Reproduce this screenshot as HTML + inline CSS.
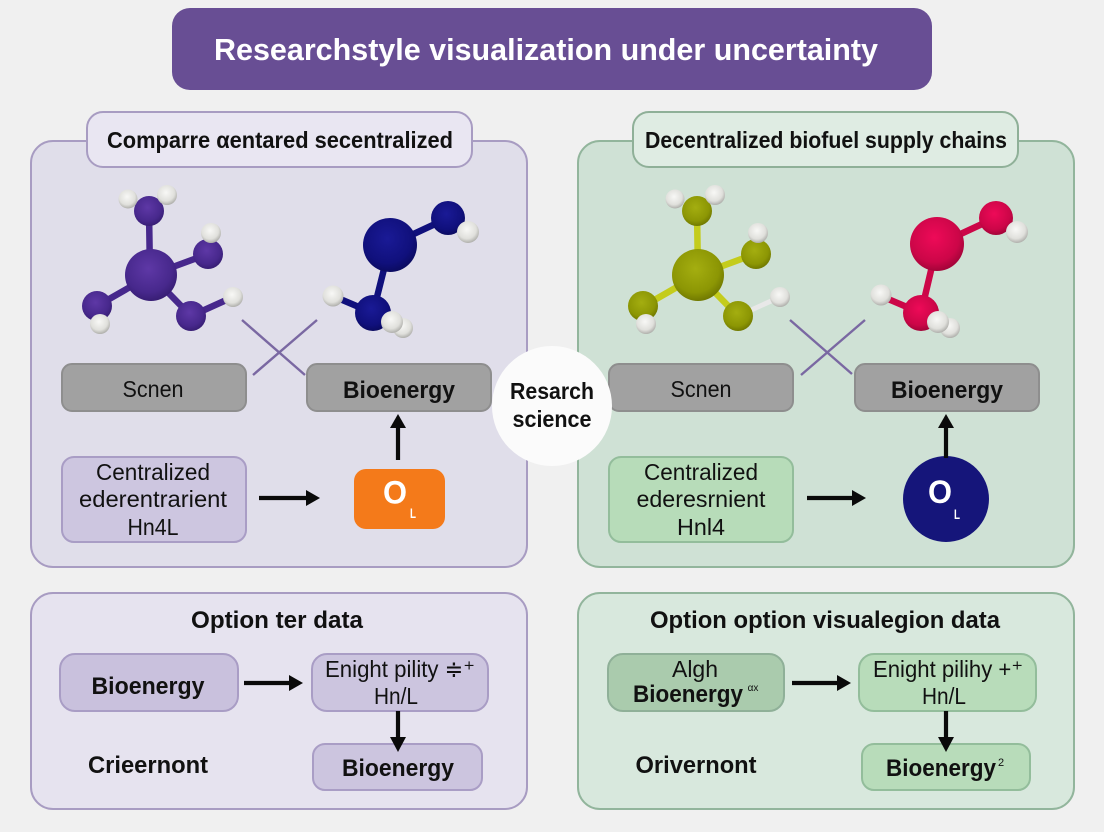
<!DOCTYPE html>
<html><head><meta charset="utf-8"><style>
html,body{margin:0;padding:0;background:#f0f0f0}
svg{display:block}
text{font-family:"Liberation Sans",sans-serif;fill:#111;text-anchor:middle}
.b{font-weight:700}
</style></head><body>
<svg width="1104" height="832" viewBox="0 0 1104 832" xmlns="http://www.w3.org/2000/svg">
<defs>
<radialGradient id="pur" cx="45%" cy="38%" r="65%"><stop offset="0" stop-color="#5e38a6"/><stop offset="0.7" stop-color="#47288c"/><stop offset="1" stop-color="#351c70"/></radialGradient>
<radialGradient id="nav" cx="45%" cy="38%" r="65%"><stop offset="0" stop-color="#1a1a96"/><stop offset="0.7" stop-color="#10107c"/><stop offset="1" stop-color="#0a0a5c"/></radialGradient>
<radialGradient id="oli" cx="45%" cy="38%" r="65%"><stop offset="0" stop-color="#a4ae10"/><stop offset="0.7" stop-color="#8c9604"/><stop offset="1" stop-color="#6c7400"/></radialGradient>
<radialGradient id="red" cx="45%" cy="38%" r="65%"><stop offset="0" stop-color="#ee0a58"/><stop offset="0.7" stop-color="#cc0648"/><stop offset="1" stop-color="#9c0436"/></radialGradient>
<radialGradient id="wht" cx="45%" cy="38%" r="65%"><stop offset="0" stop-color="#f8f8f6"/><stop offset="0.65" stop-color="#e0e0dc"/><stop offset="1" stop-color="#a8a8a4"/></radialGradient>
</defs>
<rect width="1104" height="832" fill="#f0f0f0"/>

<!-- title -->
<rect x="172" y="8" width="760" height="82" rx="18" fill="#684e94"/>
<text x="546" y="60" font-size="31" class="b" style="fill:#fff" textLength="664" lengthAdjust="spacingAndGlyphs">Researchstyle visualization under uncertainty</text>

<!-- upper panels -->
<rect x="31" y="141" width="496" height="426" rx="22" fill="#e0deea" stroke="#a89cc2" stroke-width="2"/>
<rect x="87" y="112" width="385" height="55" rx="16" fill="#e9e6f2" stroke="#a89cc2" stroke-width="2"/>
<text x="280" y="148" font-size="23" class="b" textLength="346" lengthAdjust="spacingAndGlyphs">Comparre αentared secentralized</text>

<rect x="578" y="141" width="496" height="426" rx="22" fill="#cfe1d5" stroke="#92b59c" stroke-width="2"/>
<rect x="633" y="112" width="385" height="55" rx="16" fill="#dfece3" stroke="#8fb098" stroke-width="2"/>
<text x="826" y="148" font-size="23" class="b" textLength="362" lengthAdjust="spacingAndGlyphs">Decentralized biofuel supply chains</text>

<!-- molecule 1 -->
<g stroke="#47288c" stroke-width="6.5" stroke-linecap="round">
<path d="M150 275L149 211M151 275L208 254M151 275L97 306M151 275L191 316M191 316L233 297"/>
</g>
<circle cx="149" cy="211" r="15" fill="url(#pur)"/>
<circle cx="128" cy="199" r="9.5" fill="url(#wht)"/><circle cx="167" cy="195" r="10" fill="url(#wht)"/>
<circle cx="208" cy="254" r="15" fill="url(#pur)"/><circle cx="211" cy="233" r="10" fill="url(#wht)"/>
<circle cx="151" cy="275" r="26" fill="url(#pur)"/>
<circle cx="97" cy="306" r="15" fill="url(#pur)"/><circle cx="100" cy="324" r="10" fill="url(#wht)"/>
<circle cx="191" cy="316" r="15" fill="url(#pur)"/><circle cx="233" cy="297" r="10" fill="url(#wht)"/>

<!-- molecule 2 -->
<g stroke="#10107c" stroke-width="6.5" stroke-linecap="round">
<path d="M390 245L448 218M390 245L373 313M373 313L333 296"/>
</g>
<circle cx="448" cy="218" r="17" fill="url(#nav)"/><circle cx="468" cy="232" r="11" fill="url(#wht)"/>
<circle cx="390" cy="245" r="27" fill="url(#nav)"/>
<circle cx="333" cy="296" r="10.5" fill="url(#wht)"/>
<circle cx="373" cy="313" r="18" fill="url(#nav)"/>
<circle cx="403" cy="328" r="10" fill="url(#wht)"/><circle cx="392" cy="322" r="11" fill="url(#wht)"/>

<!-- molecule 3 -->
<g stroke="#c4cc1c" stroke-width="6.5" stroke-linecap="round">
<path d="M698 275L697 211M698 275L755 254M698 275L644 306M698 275L738 316"/>
</g>
<path d="M738 316L780 297" stroke="#e8e8e8" stroke-width="5"/>
<circle cx="697" cy="211" r="15" fill="url(#oli)"/>
<circle cx="675" cy="199" r="9.5" fill="url(#wht)"/><circle cx="715" cy="195" r="10" fill="url(#wht)"/>
<circle cx="756" cy="254" r="15" fill="url(#oli)"/><circle cx="758" cy="233" r="10" fill="url(#wht)"/>
<circle cx="698" cy="275" r="26" fill="url(#oli)"/>
<circle cx="643" cy="306" r="15" fill="url(#oli)"/><circle cx="646" cy="324" r="10" fill="url(#wht)"/>
<circle cx="738" cy="316" r="15" fill="url(#oli)"/><circle cx="780" cy="297" r="10" fill="url(#wht)"/>

<!-- molecule 4 -->
<g stroke="#cc0648" stroke-width="6.5" stroke-linecap="round">
<path d="M937 245L995 218M937 245L921 313M921 313L881 296"/>
</g>
<circle cx="996" cy="218" r="17" fill="url(#red)"/><circle cx="1017" cy="232" r="11" fill="url(#wht)"/>
<circle cx="937" cy="244" r="27" fill="url(#red)"/>
<circle cx="881" cy="295" r="10.5" fill="url(#wht)"/>
<circle cx="921" cy="313" r="18" fill="url(#red)"/>
<circle cx="950" cy="328" r="10" fill="url(#wht)"/><circle cx="938" cy="322" r="11" fill="url(#wht)"/>

<!-- crosses -->
<g stroke="#7a68a2" stroke-width="2.4" fill="none">
<path d="M242 320L305 375M317 320L253 375"/>
<path d="M790 320L852 374M865 320L801 375"/>
</g>

<!-- grey boxes -->
<g fill="#a1a1a1" stroke="#8e8e8e" stroke-width="2">
<rect x="62" y="364" width="184" height="47" rx="10"/>
<rect x="307" y="364" width="184" height="47" rx="10"/>
<rect x="609" y="364" width="184" height="47" rx="10"/>
<rect x="855" y="364" width="184" height="47" rx="10"/>
</g>
<text x="153" y="397" font-size="23" textLength="61" lengthAdjust="spacingAndGlyphs">Scnen</text>
<text x="399" y="398" font-size="24" class="b" textLength="112" lengthAdjust="spacingAndGlyphs">Bioenergy</text>
<text x="701" y="397" font-size="23" textLength="61" lengthAdjust="spacingAndGlyphs">Scnen</text>
<text x="947" y="398" font-size="24" class="b" textLength="112" lengthAdjust="spacingAndGlyphs">Bioenergy</text>

<!-- center circle -->
<circle cx="552" cy="406" r="60" fill="#fbfbfb"/>
<text x="552" y="399" font-size="23" class="b" textLength="84" lengthAdjust="spacingAndGlyphs">Resarch</text>
<text x="552" y="427" font-size="23" class="b" textLength="79" lengthAdjust="spacingAndGlyphs">science</text>

<!-- mid row left -->
<rect x="62" y="457" width="184" height="85" rx="12" fill="#cdc6e0" stroke="#a99dc5" stroke-width="2"/>
<text x="153" y="480" font-size="23" textLength="114" lengthAdjust="spacingAndGlyphs">Centralized</text>
<text x="153" y="507" font-size="23" textLength="148" lengthAdjust="spacingAndGlyphs">ederentrarient</text>
<text x="153" y="535" font-size="23" textLength="51" lengthAdjust="spacingAndGlyphs">Hn4L</text>
<rect x="354" y="469" width="91" height="60" rx="12" fill="#f47a1a"/>
<text x="395" y="503.5" font-size="32" class="b" style="fill:#fff" textLength="24" lengthAdjust="spacingAndGlyphs">O</text>
<text x="413" y="518" font-size="14" class="b" style="fill:#fff" textLength="6" lengthAdjust="spacingAndGlyphs">L</text>

<!-- mid row right -->
<rect x="609" y="457" width="184" height="85" rx="12" fill="#b7dcb9" stroke="#93bd9b" stroke-width="2"/>
<text x="701" y="480" font-size="23" textLength="114" lengthAdjust="spacingAndGlyphs">Centralized</text>
<text x="701" y="507" font-size="23" textLength="129" lengthAdjust="spacingAndGlyphs">ederesrnient</text>
<text x="701" y="535" font-size="23" textLength="48" lengthAdjust="spacingAndGlyphs">Hnl4</text>
<circle cx="946" cy="499" r="43" fill="#15157a"/>
<text x="940" y="503" font-size="32" class="b" style="fill:#fff" textLength="24" lengthAdjust="spacingAndGlyphs">O</text>
<text x="957" y="519" font-size="14" class="b" style="fill:#fff" textLength="6" lengthAdjust="spacingAndGlyphs">L</text>

<!-- lower left panel -->
<rect x="31" y="593" width="496" height="216" rx="22" fill="#e6e3ef" stroke="#a89cc2" stroke-width="2"/>
<text x="277" y="628" font-size="24" class="b" textLength="172" lengthAdjust="spacingAndGlyphs">Option ter data</text>
<rect x="60" y="654" width="178" height="57" rx="15" fill="#c9c1dd" stroke="#a99dc5" stroke-width="2"/>
<text x="148" y="694" font-size="24" class="b" textLength="113" lengthAdjust="spacingAndGlyphs">Bioenergy</text>
<rect x="312" y="654" width="176" height="57" rx="15" fill="#ccc5df" stroke="#a99dc5" stroke-width="2"/>
<text x="400" y="677" font-size="23" textLength="150" lengthAdjust="spacingAndGlyphs">Enight pility ≑⁺</text>
<text x="396" y="704" font-size="23" textLength="44" lengthAdjust="spacingAndGlyphs">Hn/L</text>
<rect x="313" y="744" width="169" height="46" rx="12" fill="#ccc5df" stroke="#a99dc5" stroke-width="2"/>
<text x="398" y="776" font-size="24" class="b" textLength="112" lengthAdjust="spacingAndGlyphs">Bioenergy</text>
<text x="148" y="773" font-size="24" class="b" textLength="120" lengthAdjust="spacingAndGlyphs">Crieernont</text>

<!-- lower right panel -->
<rect x="578" y="593" width="496" height="216" rx="22" fill="#d8e8dd" stroke="#92b59c" stroke-width="2"/>
<text x="825" y="628" font-size="24" class="b" textLength="350" lengthAdjust="spacingAndGlyphs">Option option visualegion data</text>
<rect x="608" y="654" width="176" height="57" rx="15" fill="#aacbad" stroke="#8fb098" stroke-width="2"/>
<text x="695" y="677" font-size="23" textLength="46" lengthAdjust="spacingAndGlyphs">Algh</text>
<text x="688" y="702" font-size="24" class="b" textLength="110" lengthAdjust="spacingAndGlyphs">Bioenergy</text>
<text x="753" y="691" font-size="10">αx</text>
<rect x="859" y="654" width="177" height="57" rx="15" fill="#b8dcba" stroke="#93bd9b" stroke-width="2"/>
<text x="948" y="677" font-size="23" textLength="150" lengthAdjust="spacingAndGlyphs">Enight pilihy +⁺</text>
<text x="944" y="704" font-size="23" textLength="44" lengthAdjust="spacingAndGlyphs">Hn/L</text>
<rect x="862" y="744" width="168" height="46" rx="12" fill="#b8dcba" stroke="#93bd9b" stroke-width="2"/>
<text x="941" y="776" font-size="24" class="b" textLength="110" lengthAdjust="spacingAndGlyphs">Bioenergy</text>
<text x="1001" y="766" font-size="11">2</text>
<text x="696" y="773" font-size="24" class="b" textLength="121" lengthAdjust="spacingAndGlyphs">Orivernont</text>

<!-- arrows -->
<g stroke="#0a0a0a" stroke-width="4.2" fill="none">
<path d="M259 498H308"/><path d="M398 460V426"/>
<path d="M807 498H854"/><path d="M946 458V426"/>
<path d="M244 683H292"/><path d="M398 711V739"/>
<path d="M792 683H840"/><path d="M946 711V739"/>
</g>
<g fill="#0a0a0a">
<polygon points="306,490 320,498 306,506"/>
<polygon points="390,428 398,414 406,428"/>
<polygon points="852,490 866,498 852,506"/>
<polygon points="938,428 946,414 954,428"/>
<polygon points="289,675 303,683 289,691"/>
<polygon points="390,737 398,752 406,737"/>
<polygon points="837,675 851,683 837,691"/>
<polygon points="938,737 946,752 954,737"/>
</g>
</svg>
</body></html>
